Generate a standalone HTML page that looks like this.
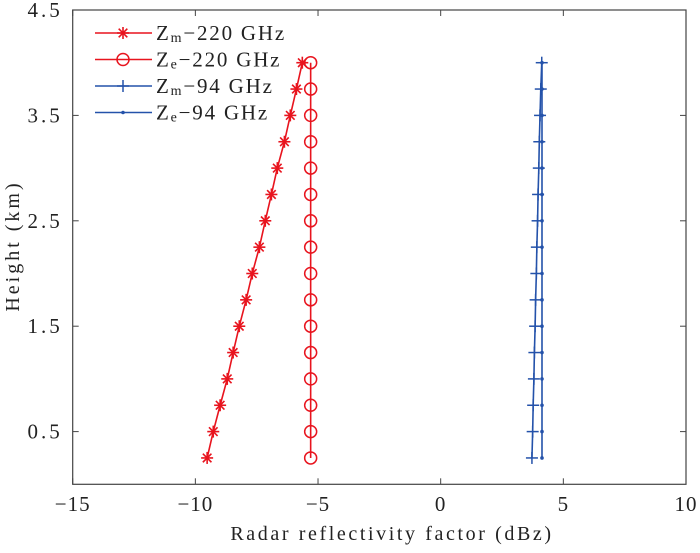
<!DOCTYPE html>
<html><head><meta charset="utf-8"><style>
body{margin:0;background:#fff}
svg text{font-family:"Liberation Serif",serif;fill:#222}
</style></head><body>
<svg id="chart" width="700" height="548" xmlns="http://www.w3.org/2000/svg">
<rect x="72.7" y="10" width="613.3" height="474.3" fill="none" stroke="#444" stroke-width="1.2"/>
<g id="axes"></g>
<g id="series"></g>
<text x="392" y="540" font-size="20" text-anchor="middle" letter-spacing="2.6">Radar reflectivity factor (dBz)</text>
<text transform="translate(19,246) rotate(-90)" font-size="20" text-anchor="middle" letter-spacing="3">Height (km)</text>
<g id="legend"></g>
</svg>
<script>
const heights=[0.25,0.5,0.75,1.0,1.25,1.5,1.75,2.0,2.25,2.5,2.75,3.0,3.25,3.5,3.75,4.0];
const zm220=[-9.52,-9.27,-8.99,-8.70,-8.46,-8.21,-7.93,-7.68,-7.39,-7.15,-6.90,-6.66,-6.37,-6.13,-5.88,-5.64];
const ze220=[-5.3,-5.3,-5.3,-5.3,-5.3,-5.3,-5.3,-5.3,-5.3,-5.3,-5.3,-5.3,-5.3,-5.3,-5.3,-5.3];
const zm94=[3.72,3.75,3.77,3.80,3.82,3.85,3.87,3.90,3.92,3.95,3.97,4.00,4.02,4.05,4.08,4.12];
const ze94=[4.13,4.13,4.13,4.13,4.13,4.13,4.13,4.13,4.13,4.13,4.13,4.13,4.13,4.13,4.13,4.13];
const xTicks=[-15,-10,-5,0,5,10];
const yTicks=[0.5,1.5,2.5,3.5,4.5];
const xTickLabels=["\u221215","\u221210","\u22125","0","5","10"];
const yTickLabels=["0.5","1.5","2.5","3.5","4.5"];
const NS="http://www.w3.org/2000/svg";
const L=72.7,R=686,T=10,B=484.3;
const xs=v=>L+(v+15)/25*(R-L);
const ys=v=>B-v/4.5*(B-T);
function mk(tag,at,parent){const e=document.createElementNS(NS,tag);for(const k in at)e.setAttribute(k,at[k]);parent.appendChild(e);return e;}
const ax=document.getElementById('axes');
xTicks.forEach((t,i)=>{const x=xs(t);
 let l=mk('line',{x1:x,x2:x,y1:B,y2:B-6,stroke:'#444'},ax);
 
 
 let l2=mk('line',{x1:x,x2:x,y1:T,y2:T+6,stroke:'#444'},ax);
 
 
 let tx=mk('text',{x:x,y:511,'font-size':21,'text-anchor':'middle','letter-spacing':1},ax);tx.textContent=xTickLabels[i];
 
 
});
yTicks.forEach((t,i)=>{const y=ys(t);
 let l=mk('line',{x1:L,x2:L+6,y1:y,y2:y,stroke:'#444'},ax);
 
 
 let l2=mk('line',{x1:R,x2:R-6,y1:y,y2:y,stroke:'#444'},ax);
 
 
 let tx=mk('text',{x:L-10,y:y+7,'font-size':21,'text-anchor':'end','letter-spacing':3},ax);tx.textContent=yTickLabels[i];
 
 
});
const RED='#e8141e',BLUE='#2452aa';
function marker(type,x,y,c,g){
 if(type==='star'){[[0,-6,0,6],[-6,0,6,0],[-4.3,-4.3,4.3,4.3],[-4.3,4.3,4.3,-4.3]].forEach(d=>mk('line',{x1:x+d[0],y1:y+d[1],x2:x+d[2],y2:y+d[3],stroke:c,'stroke-width':1.6},g));}
 else if(type==='circle'){mk('circle',{cx:x,cy:y,r:6,fill:'none',stroke:c,'stroke-width':1.5},g);}
 else if(type==='plus'){mk('line',{x1:x-6,y1:y,x2:x+6,y2:y,stroke:c,'stroke-width':1.5},g);mk('line',{x1:x,y1:y-6,x2:x,y2:y+6,stroke:c,'stroke-width':1.5},g);}
 else {mk('circle',{cx:x,cy:y,r:1.8,fill:c},g);}
}
const ser=document.getElementById('series');
const defs=[[zm220,RED,'star','series-zm-220'],[ze220,RED,'circle','series-ze-220'],[zm94,BLUE,'plus','series-zm-94'],[ze94,BLUE,'dot','series-ze-94']];
defs.forEach(([vals,c,m,name])=>{
 const g=mk('g',{},ser);
 
 
 mk('polyline',{points:vals.map((v,i)=>xs(v)+','+ys(heights[i])).join(' '),fill:'none',stroke:c,'stroke-width':1.6},g);
 vals.forEach((v,i)=>marker(m,xs(v),ys(heights[i]),c,g));
});
const lg=document.getElementById('legend');
const labels=[['Z','m','\u2212220 GHz'],['Z','e','\u2212220 GHz'],['Z','m','\u221294 GHz'],['Z','e','\u221294 GHz']];
defs.forEach(([v,c,m],i)=>{
 const y=33+i*26.5;
 const g=mk('g',{},lg);
 
 
 mk('line',{x1:95,x2:152,y1:y,y2:y,stroke:c,'stroke-width':1.6},g);
 marker(m,123,y,c,g);
 const t=mk('text',{x:156,y:y+7,'font-size':21,'letter-spacing':1.8},g);
 const a=mk('tspan',{},t);a.textContent=labels[i][0];
 const b=mk('tspan',{'font-size':14,dy:2},t);b.textContent=labels[i][1];
 const d=mk('tspan',{dy:-2},t);d.textContent=labels[i][2];
});
</script>
</body></html>
